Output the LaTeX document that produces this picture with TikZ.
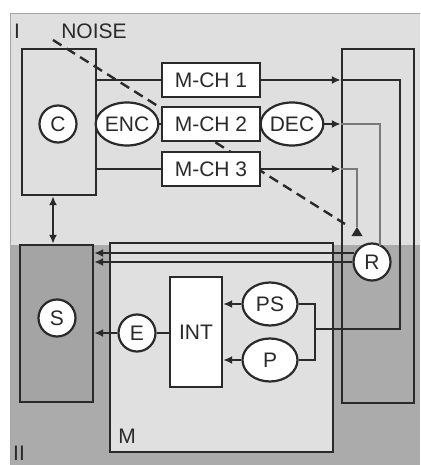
\documentclass[tikz,border=0pt]{standalone}
\usepackage{fontspec}
\setmainfont{Liberation Sans}
\usetikzlibrary{arrows.meta,shapes.geometric}
\definecolor{regI}{HTML}{DFDFDF}
\definecolor{regII}{HTML}{ABABAB}
\definecolor{mfill}{HTML}{E0E0E0}
\definecolor{sfill}{HTML}{A4A4A4}
\definecolor{ink}{HTML}{2A2A2A}
\definecolor{thin}{HTML}{7A7A7A}
\begin{document}
\begin{tikzpicture}[x=1pt,y=-1pt,
  every node/.style={font=\fontsize{21}{25}\selectfont, text=ink, inner sep=0pt},
  blk/.style={draw=ink, line width=2.4pt, rectangle},
  chan/.style={blk, fill=white, minimum width=98pt, minimum height=34pt},
  circ/.style={draw=ink, line width=2.2pt, circle, fill=white, minimum size=37pt},
  ell/.style={draw=ink, line width=2.2pt, ellipse, fill=white, minimum width=55pt, minimum height=43pt},
  wire/.style={draw=ink, line width=2.4pt},
  arr/.style={wire, -{Latex[length=9pt,width=8pt]}},
  thinwire/.style={draw=thin, line width=1.3pt},
  noise/.style={draw=ink, line width=2.4pt, dash pattern=on 10pt off 6pt}
]
\useasboundingbox (0,0) rectangle (420,465);
% regions
\fill[regI] (10,13) rectangle (420,245);
\fill[regII] (10,245) rectangle (420,465);
\draw[gray!70, line width=0.8pt] (10,465) -- (10,13) -- (420,13);
\node at (17,31) {I};
\node at (94,31) {NOISE};
\node at (19,453) {II};

% top-left block C
\node[blk, fill=regI, minimum width=74pt, minimum height=146pt] (Cbox) at (59,122) {};
\node[circ] (C) at (58,124) {C};

% right box
\node[blk, minimum width=72pt, minimum height=354pt] (Rbox) at (378,226) {};

% noise line
\coordinate (n1) at (53,40);
\coordinate (n2) at (345,224);
\draw[noise] (n1) -- (n2);

% channels
\node[chan] (M1) at (211,80) {M-CH 1};
\node[chan] (M2) at (211,124) {M-CH 2};
\node[chan] (M3) at (211,169) {M-CH 3};
\node[ell] (ENC) at (127,124) {ENC};
\node[ell] (DEC) at (292,124) {DEC};

\draw[wire] (Cbox.east |- M1) -- (M1.west);
\draw[wire] (Cbox.east |- ENC) -- (ENC.west);
\draw[wire] (ENC.east) -- (M2.west);
\draw[wire] (M2.east) -- (DEC.west);
\draw[wire] (Cbox.east |- M3) -- (M3.west);

% lower blocks
\node[blk, fill=sfill, minimum width=73pt, minimum height=157pt] (Sbox) at (56.5,323.5) {};
\node[circ] (S) at (57,318) {S};
\node[blk, fill=mfill, minimum width=223pt, minimum height=209pt] (Mbox) at (221.5,347.5) {};
\node at (127,436) {M};
\node[blk, fill=white, minimum width=52pt, minimum height=110pt] (INT) at (196,332) {INT};
\node[circ] (E) at (137,333) {E};
\node[ell] (PS) at (270,304) {PS};
\node[ell] (P) at (270,360) {P};
\node[circ] (R) at (372,262) {R};

% channel outputs
\draw[arr] (M1.east) -- (Rbox.west |- M1);
\draw[arr] (DEC.east) -- (Rbox.west |- DEC);
\draw[arr] (M3.east) -- (Rbox.west |- M3);

\coordinate (j1) at (400,329);
\coordinate (j2) at (315,329);
\draw[wire] (Rbox.west |- M1) -| (j1) -- (j2);
\draw[wire] (PS.east) -| (j2) |- (P.east);

\coordinate (dtop) at (380,246);
\draw[thinwire] (Rbox.west |- DEC) -| (dtop);
\coordinate (ttip) at (357,227);
\draw[thinwire] (Rbox.west |- M3) -| (ttip);
\fill[ink] (ttip) -- (351.5,236) -- (362.5,236) -- cycle;

% receiver to S
\draw[arr] (R.west |- 0,253) ++(2,0) -- (Sbox.east |- 0,253);
\draw[arr] (R.west) -- (Sbox.east |- R.west);

% C <-> S
\draw[wire, {Latex[length=9pt,width=8pt]}-{Latex[length=9pt,width=8pt]}] (Cbox.south -| 53,0) -- (Sbox.north -| 53,0);

% internal
\draw[wire] (INT.west |- E) -- (E.east);
\draw[arr] (E.west) -- (Sbox.east |- E);
\draw[arr] (PS.west) -- (INT.east |- PS);
\draw[arr] (P.west) -- (INT.east |- P);
\end{tikzpicture}
\end{document}
